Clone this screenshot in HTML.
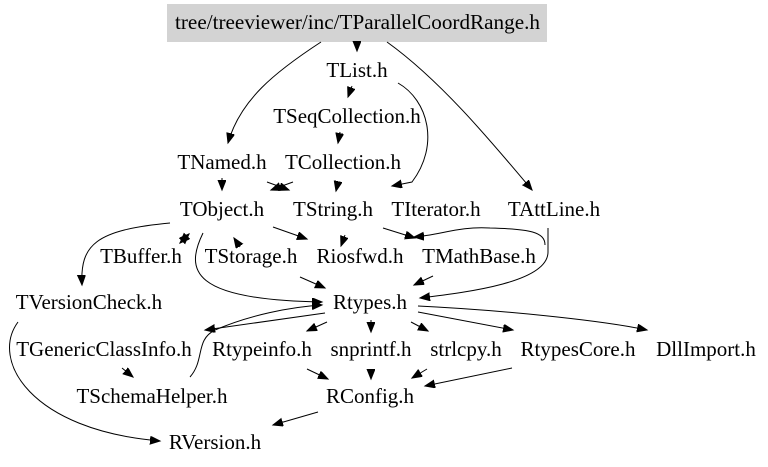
<!DOCTYPE html>
<html><head><meta charset="utf-8"><style>
html,body{margin:0;padding:0;background:#fff;}
svg{display:block;}
text{font-family:"Liberation Serif","DejaVu Serif",serif;font-size:21px;fill:#000;}
path,line{stroke:#000;stroke-width:1;fill:none;}
</style></head><body>
<svg width="768" height="467" viewBox="0 0 768 467" xmlns="http://www.w3.org/2000/svg">
<defs>
<marker id="a" markerUnits="userSpaceOnUse" markerWidth="12" markerHeight="10" refX="10" refY="4" orient="auto">
<path d="M0,0 L10,4 L0,8 Z" style="fill:#000;stroke:#000"/>
</marker>
</defs>
<rect x="167" y="4" width="380" height="38" fill="#d3d3d3"/>
<text x="175" y="29" textLength="365" lengthAdjust="spacingAndGlyphs">tree/treeviewer/inc/TParallelCoordRange.h</text>
<g text-anchor="middle">
<text x="357" y="77">TList.h</text>
<text x="347" y="123">TSeqCollection.h</text>
<text x="222" y="169">TNamed.h</text>
<text x="343" y="169">TCollection.h</text>
<text x="222" y="216">TObject.h</text>
<text x="333" y="216">TString.h</text>
<text x="436" y="216">TIterator.h</text>
<text x="554" y="216">TAttLine.h</text>
<text x="141" y="263">TBuffer.h</text>
<text x="251" y="263">TStorage.h</text>
<text x="360" y="263">Riosfwd.h</text>
<text x="479" y="263">TMathBase.h</text>
<text x="89" y="309">TVersionCheck.h</text>
<text x="370" y="309">Rtypes.h</text>
<text x="104" y="356">TGenericClassInfo.h</text>
<text x="262" y="356">Rtypeinfo.h</text>
<text x="371" y="356">snprintf.h</text>
<text x="466" y="356">strlcpy.h</text>
<text x="578" y="356">RtypesCore.h</text>
<text x="706" y="356">DllImport.h</text>
<text x="152" y="403">TSchemaHelper.h</text>
<text x="370" y="403">RConfig.h</text>
<text x="215" y="449">RVersion.h</text>
</g>
<g marker-end="url(#a)">
<path d="M321,42 C275,72 240,100 228,143"/>
<path d="M357,42 L357,51"/>
<path d="M387,42 C440,80 490,140 532,190"/>
<path d="M352,86 L348,97"/>
<path d="M398,83 C428,100 440,145 412,182 L392,186"/>
<path d="M340,132 L338,143"/>
<path d="M222,178 L222,190"/>
<path d="M267,182 L289,190"/>
<path d="M293,182 L271,190"/>
<path d="M338,182 L336,191"/>
<path d="M170,223 C95,230 80,245 82,285"/>
<path d="M203,233 C185,270 190,300 322,302"/>
<path d="M180,243 L189,234"/>
<path d="M189,234 L180,243"/>
<path d="M240,247 L234,238"/>
<path d="M273,227 L307,239"/>
<path d="M345,235 L341,246"/>
<path d="M383,228 L415,238"/>
<path d="M545,245 C545,232 530,229 490,228 C460,226 440,235 414,237"/>
<path d="M548,228 L548,252 C548,282 470,292 420,298"/>
<path d="M300,277 L325,288"/>
<path d="M433,276 L414,285"/>
<path d="M190,377 C205,360 195,340 215,330 C250,315 290,307 322,305"/>
<path d="M325,313 L205,330"/>
<path d="M327,322 L307,331"/>
<path d="M371,320 L371,332"/>
<path d="M411,322 L428,331"/>
<path d="M418,312 L513,330"/>
<path d="M418,306 C500,310 600,320 647,330"/>
<path d="M122,368 L133,377"/>
<path d="M307,369 L328,379"/>
<path d="M371,369 L371,379"/>
<path d="M427,369 L412,378"/>
<path d="M512,368 L425,386"/>
<path d="M318,412 L273,425"/>
<path d="M18,322 C-10,360 30,430 160,441"/>
</g>
</svg>
</body></html>
